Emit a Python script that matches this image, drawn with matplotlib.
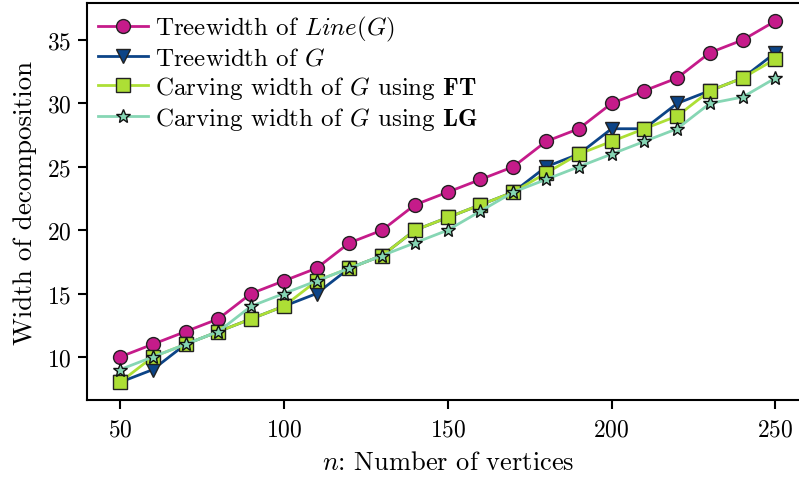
import numpy as np
import matplotlib.pyplot as plt

plt.rcParams['font.family'] = 'cmr10'
plt.rcParams['mathtext.fontset'] = 'cm'
plt.rcParams['axes.formatter.use_mathtext'] = True

n = np.arange(50, 251, 10)
tw_line = [10, 11, 12, 13, 15, 16, 17, 19, 20, 22, 23, 24, 25, 27, 28, 30, 31, 32, 34, 35, 36.5]
tw_g = [8, 9, 11, 12, 13, 14, 15, 17, 18, 20, 21, 22, 23, 25, 26, 28, 28, 30, 31, 32, 34]
cw_ft = [8, 10, 11, 12, 13, 14, 16, 17, 18, 20, 21, 22, 23, 24.5, 26, 27, 28, 29, 31, 32, 33.5]
cw_lg = [9, 10, 11, 12, 14, 15, 16, 17, 18, 19, 20, 21.5, 23, 24, 25, 26, 27, 28, 30, 30.5, 32]

fig = plt.figure(figsize=(7.99, 4.81), dpi=100)
# axes run past the right edge of the figure, as in the original
ax = fig.add_axes([0.1091, 0.1655, 0.9025, 0.8264])

ax.plot(n, tw_line, '-o', color='#c51b8a', lw=2, ms=10, mec='#222222', mew=1,
        label=r'Treewidth of $Line(G)$')
ax.plot(n, tw_g, '-v', color='#0c4487', lw=2, ms=10, mec='#222222', mew=1,
        label=r'Treewidth of $G$')
ax.plot(n, cw_ft, '-s', color='#addf35', lw=2, ms=10, mec='#222222', mew=1,
        label=r'Carving width of $G$ using $\mathbf{FT}$')
ax.plot(n, cw_lg, '-*', color='#86d6b4', lw=2, ms=10, mec='#111111', mew=1,
        label=r'Carving width of $G$ using $\mathbf{LG}$')

ax.set_xlabel(r'$n$: Number of vertices', fontsize=19, labelpad=7)
ax.set_ylabel('Width of decomposition', fontsize=19.5, labelpad=7)
ax.tick_params(labelsize=17, width=1.5, length=6.5)
ax.tick_params(axis='x', pad=6.5)
ax.tick_params(axis='y', pad=5)
for s in ax.spines.values():
    s.set_linewidth(1.5)
ax.spines['right'].set_visible(False)
ax.set_xticks([50, 100, 150, 200, 250])
ax.legend(loc='upper left', fontsize=18, frameon=False, borderaxespad=0.1,
          borderpad=0.35, handlelength=2.0, handletextpad=0.25, labelspacing=0.16)

plt.savefig('out.png', dpi=100)
